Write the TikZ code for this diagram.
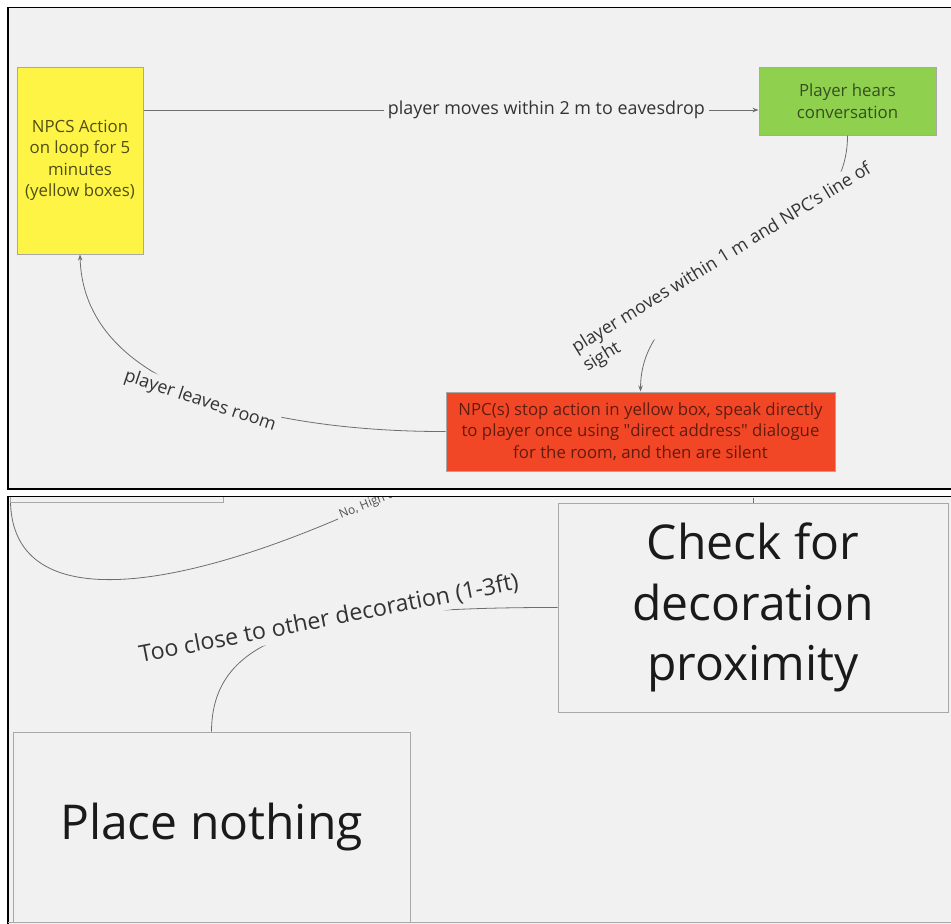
\documentclass[tikz,border=0pt]{standalone}
\usepackage{fontspec}
\setmainfont{Open Sans}
\usetikzlibrary{arrows.meta}
\definecolor{bg}{HTML}{F1F1F1}
\definecolor{yfill}{HTML}{FEF445}
\definecolor{gfill}{HTML}{8FD14F}
\definecolor{rfill}{HTML}{F24726}
\definecolor{boxline}{HTML}{A8A8A8}
\definecolor{connline}{HTML}{6E6E6E}
\definecolor{lbltext}{HTML}{333333}
\definecolor{bigtext}{HTML}{1A1A1A}
\tikzset{
  box/.style={draw=boxline, line width=1pt, inner sep=0pt, align=center},
  smalltxt/.style={font=\fontsize{16.8}{21.5}\selectfont},
  bigtxt/.style={font=\fontsize{48}{60.5}\selectfont, text=bigtext},
  conn/.style={draw=connline, line width=0.8pt},
  tipped/.style={-{Stealth[length=6pt,width=4.5pt]}},
  lbl/.style={fill=bg, text=lbltext, inner sep=4pt, font=\fontsize{17.9}{21.5}\selectfont},
  panel/.style={draw=black, line width=1.8pt}
}
\begin{document}
\begin{tikzpicture}[x=1pt,y=-1pt]
\useasboundingbox (0,0) rectangle (951,924);
\fill[white] (0,0) rectangle (951,924);
% top panel
\fill[bg] (8,7.5) rectangle (951,489);
\draw[panel] (951,7.5) -- (8,7.5) -- (8,489) -- (951,489);
% bottom panel
\fill[bg] (8,496.5) rectangle (951,924);
\draw[panel] (951,496.5) -- (8,496.5) -- (8,924);
\draw[boxline, line width=1pt] (8,922) -- (951,922);

% ---- top panel nodes
\node[box, smalltxt, fill=yfill, text=black!68!yfill, minimum width=126pt, minimum height=187pt] (npc) at (80,160.5)
  {NPCS Action\\on loop for 5\\minutes\\(yellow boxes)};
\node[box, smalltxt, fill=gfill, text=black!62!gfill, minimum width=177pt, minimum height=68pt] (hear) at (847.5,101)
  {Player hears\\conversation};
\node[box, smalltxt, fill=rfill, text=black!60!rfill, minimum width=389pt, minimum height=79pt] (stop) at (640.5,431.5)
  {NPC(s) stop action in yellow box, speak directly\\to player once using \textquotedbl direct address\textquotedbl{} dialogue\\for the room, and then are silent};

% connectors top
\draw[conn, tipped] (npc.east |- 0,110) -- node[lbl, pos=0.655] {player moves within 2 m to eavesdrop} (hear.west |- 0,110);
\draw[conn, tipped] (hear.south) .. controls (848,260) and (641,270) .. (stop.north);
\node[lbl, rotate=31.5, align=left, inner sep=3pt] (l2) at (727.5,268)
  {player moves within 1 m and NPC's line of\\sight};
\draw[conn, tipped] (stop.west) .. controls (300,432) and (84,400) .. (npc.south);
\node[lbl, rotate=-18.5, inner sep=3pt] (l3) at (200,401) {player leaves room};

% ---- bottom panel
\begin{scope}
  \clip (8,497.5) rectangle (951,924);
  \node[box, minimum width=213pt, minimum height=60pt] (prev) at (116.5,472.5) {};
  \draw[conn] ([xshift=1pt]prev.south west) .. controls (14,610) and (160,595) .. (338,519);
  \node[text=lbltext!85!bg, anchor=base west, rotate=22.5, inner sep=0pt, font=\fontsize{12}{14}\selectfont] (nohigh) at (341,519) {No, High t};
\end{scope}

\node[box, bigtxt, minimum width=390pt, minimum height=209pt] (chk) at (753,607.5)
  {Check for\\decoration\\proximity};
\node[box, bigtxt, minimum width=397pt, minimum height=190pt] (place) at (211.5,827) {Place nothing};
\coordinate (topin) at (753,497.5);
\draw[conn] (topin) -- (chk.north);

\draw[conn] (chk.west) .. controls (300,607) and (212,640) .. (place.north);
\node[lbl, rotate=11, inner sep=3pt, font=\fontsize{23.2}{27}\selectfont] (l4) at (329,619) {Too close to other decoration (1-3ft)};
\end{tikzpicture}
\end{document}
